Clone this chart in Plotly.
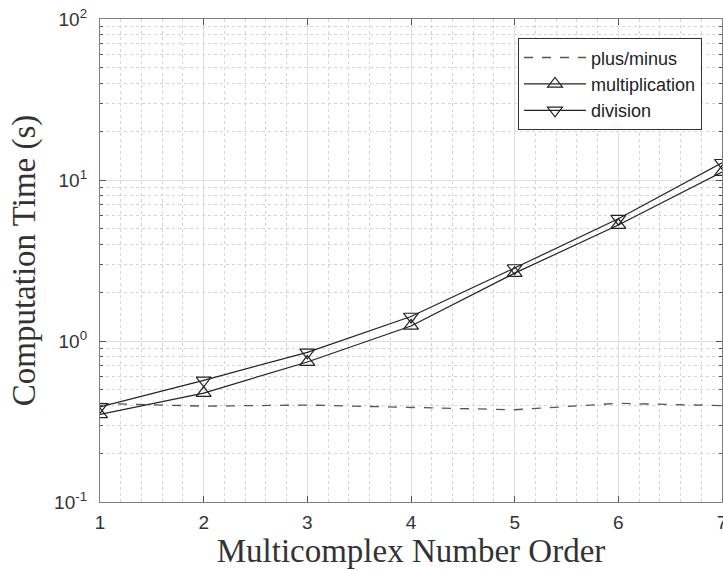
import plotly.graph_objects as go

# Multicomplex arithmetic timings versus number order
orders = [1, 2, 3, 4, 5, 6, 7]
plus_minus = [0.41, 0.394, 0.40, 0.386, 0.374, 0.41, 0.397]
multiplication = [0.35, 0.475, 0.74, 1.24, 2.64, 5.25, 11.2]
division = [0.39, 0.57, 0.85, 1.42, 2.84, 5.75, 12.8]

y_tick_vals = [0.1, 1, 10, 100]
y_tick_text = ["10<sup>-1</sup>", "10<sup>0</sup>", "10<sup>1</sup>", "10<sup>2</sup>"]
x_tick_vals = [1, 2, 3, 4, 5, 6, 7]

fig = go.Figure()
fig.add_trace(go.Scatter(
    x=orders, y=plus_minus, name="plus/minus", mode="lines",
    line=dict(color="#555555", width=1.3, dash="dash"),
))
fig.add_trace(go.Scatter(
    x=orders, y=multiplication, name="multiplication", mode="lines+markers",
    line=dict(color="#222222", width=1.2),
    marker=dict(symbol="triangle-up-open", size=13, color="#222222", line=dict(width=1.2)),
))
fig.add_trace(go.Scatter(
    x=orders, y=division, name="division", mode="lines+markers",
    line=dict(color="#222222", width=1.2),
    marker=dict(symbol="triangle-down-open", size=13, color="#222222", line=dict(width=1.2)),
))

axis_common = dict(
    showline=True, linecolor="#808080", linewidth=1.3, mirror="ticks",
    ticks="inside", tickcolor="#555555", ticklen=6,
    gridcolor="#dedede", gridwidth=1, zeroline=False,
    tickfont=dict(family="Liberation Sans, Arial", size=19, color="#333333"),
    ticklabeloverflow="allow", automargin=False,
)
title_font = dict(family="Liberation Serif, Times New Roman", size=33, color="#333333")

fig.update_xaxes(
    range=[1, 7], tickvals=x_tick_vals,
    minor=dict(dtick=0.2, showgrid=True, gridcolor="#d4d4d4", griddash="dot", ticks=""),
    title=dict(text="Multicomplex Number Order", font=title_font, standoff=6),
    ticklabelstandoff=3,
    **axis_common,
)
fig.update_yaxes(
    type="log", range=[-1, 2], tickvals=y_tick_vals, ticktext=y_tick_text,
    minor=dict(dtick="D1", showgrid=True, gridcolor="#d4d4d4", griddash="dot",
               ticks="inside", ticklen=3, tickcolor="#555555"),
    title=dict(text="Computation Time (s)", font=title_font, standoff=8),
    ticklabelstandoff=8,
    **axis_common,
)

fig.update_layout(
    width=723, height=571,
    margin=dict(l=100, r=1, t=19, b=69),
    paper_bgcolor="white", plot_bgcolor="white",
    showlegend=True,
    legend=dict(
        x=0.672, y=0.96, xanchor="left", yanchor="top",
        bgcolor="white", bordercolor="#333333", borderwidth=1,
        font=dict(family="Liberation Sans, Arial", size=18, color="#222222"),
        tracegroupgap=0, itemwidth=62,
    ),
)

fig.write_html("out.html")
